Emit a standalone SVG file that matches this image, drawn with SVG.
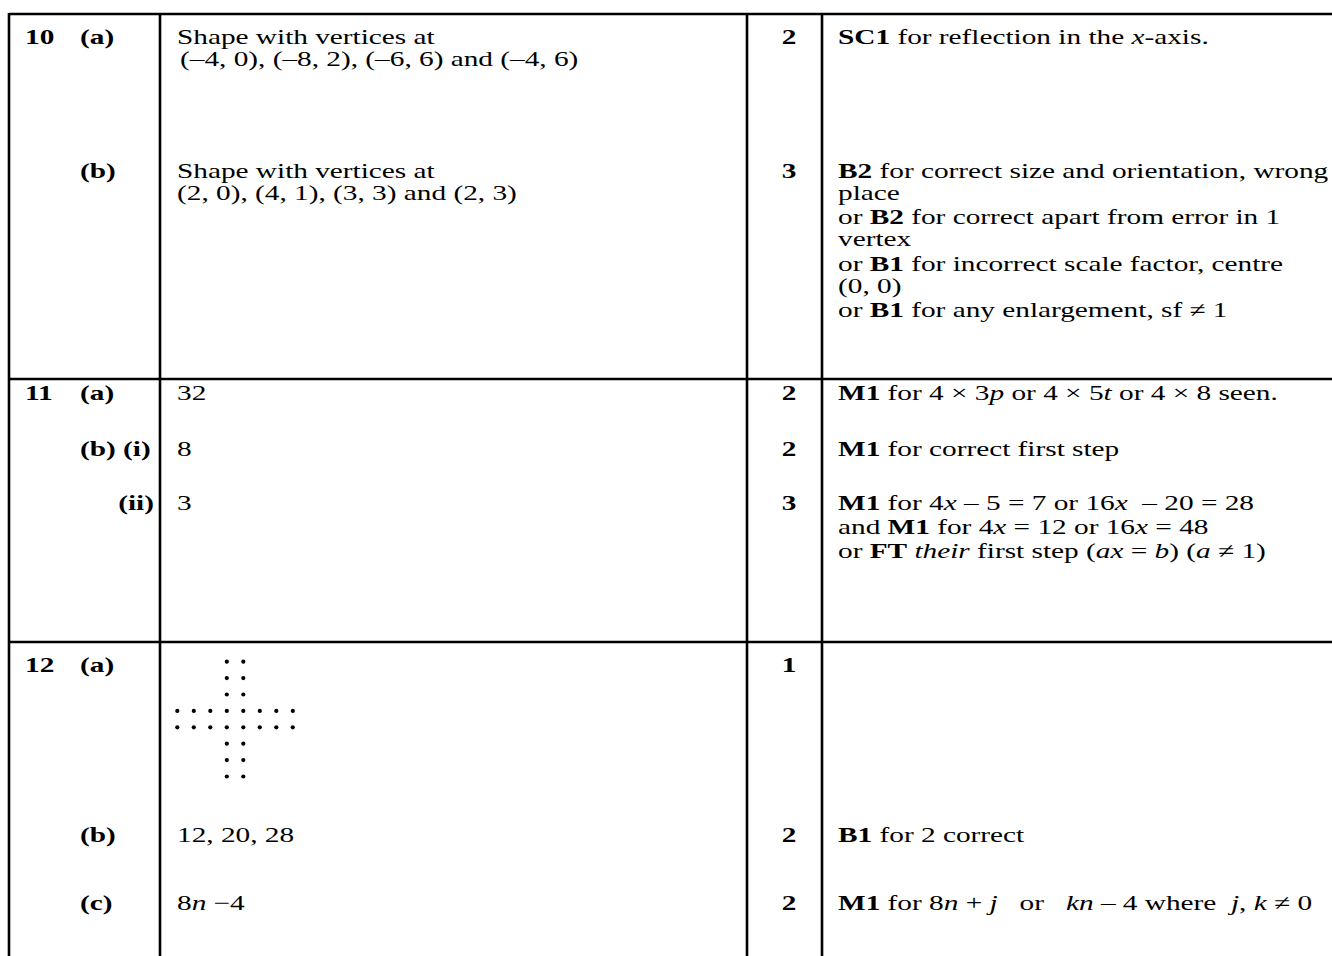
<svg xmlns="http://www.w3.org/2000/svg" width="1332" height="956" viewBox="0 0 1332 956">
<style>
text{font-family:"Liberation Serif","Times New Roman",serif;font-size:21px;fill:#000;white-space:pre}
.b{font-weight:bold}
.i{font-style:italic}
.m{font-weight:bold;text-anchor:middle}
.grid line{stroke:#000;stroke-width:2.6}
.dots circle{fill:#000}
</style>
<rect width="1332" height="956" fill="#fff"/>
<g id="connectors" class="grid">
<line x1="9" y1="14" x2="1332" y2="14"/>
<line x1="9" y1="379" x2="1332" y2="379"/>
<line x1="9" y1="642" x2="1332" y2="642"/>
<line x1="9" y1="13" x2="9" y2="956"/>
<line x1="160" y1="13" x2="160" y2="956"/>
<line x1="747" y1="13" x2="747" y2="956"/>
<line x1="822" y1="13" x2="822" y2="956"/>
</g>
<g id="q10">
<text class="b" transform="translate(25 44) scale(1.395 1)">10</text>
<text class="b" transform="translate(80 44) scale(1.395 1)">(a)</text>
<text transform="translate(177 44) scale(1.395 1)">Shape with vertices at</text>
<text transform="translate(180 66) scale(1.395 1)">(–4, 0), (–8, 2), (–6, 6) and (–4, 6)</text>
<text class="m" transform="translate(789 44) scale(1.395 1)">2</text>
<text transform="translate(838 44) scale(1.395 1)"><tspan class="b">SC1</tspan> for reflection in the <tspan class="i">x</tspan>-axis.</text>
<text class="b" transform="translate(80 178) scale(1.395 1)">(b)</text>
<text transform="translate(177 178) scale(1.395 1)">Shape with vertices at</text>
<text transform="translate(177 200) scale(1.395 1)">(2, 0), (4, 1), (3, 3) and (2, 3)</text>
<text class="m" transform="translate(789 178) scale(1.395 1)">3</text>
<text transform="translate(838 178) scale(1.395 1)"><tspan class="b">B2</tspan> for correct size and orientation, wrong</text>
<text transform="translate(838 200) scale(1.395 1)">place</text>
<text transform="translate(838 224) scale(1.395 1)">or <tspan class="b">B2</tspan> for correct apart from error in 1</text>
<text transform="translate(838 246) scale(1.395 1)">vertex</text>
<text transform="translate(838 271) scale(1.395 1)">or <tspan class="b">B1</tspan> for incorrect scale factor, centre</text>
<text transform="translate(838 293) scale(1.395 1)">(0, 0)</text>
<text transform="translate(838 317) scale(1.395 1)">or <tspan class="b">B1</tspan> for any enlargement, sf ≠ 1</text>
</g>
<g id="q11">
<text class="b" transform="translate(25 400) scale(1.395 1)">11</text>
<text class="b" transform="translate(80 400) scale(1.395 1)">(a)</text>
<text transform="translate(177 400) scale(1.395 1)">32</text>
<text class="m" transform="translate(789 400) scale(1.395 1)">2</text>
<text transform="translate(838 400) scale(1.395 1)"><tspan class="b">M1</tspan> for 4 × 3<tspan class="i">p</tspan> or 4 × 5<tspan class="i">t</tspan> or 4 × 8 seen.</text>
<text class="b" transform="translate(80 456) scale(1.395 1)">(b) (i)</text>
<text transform="translate(177 456) scale(1.395 1)">8</text>
<text class="m" transform="translate(789 456) scale(1.395 1)">2</text>
<text transform="translate(838 456) scale(1.395 1)"><tspan class="b">M1</tspan> for correct first step</text>
<text class="b" text-anchor="end" transform="translate(154 510) scale(1.395 1)">(ii)</text>
<text transform="translate(177 510) scale(1.395 1)">3</text>
<text class="m" transform="translate(789 510) scale(1.395 1)">3</text>
<text transform="translate(838 510) scale(1.395 1)"><tspan class="b">M1</tspan> for 4<tspan class="i">x</tspan> – 5 = 7 or 16<tspan class="i">x</tspan>  – 20 = 28</text>
<text transform="translate(838 534) scale(1.395 1)">and <tspan class="b">M1</tspan> for 4<tspan class="i">x</tspan> = 12 or 16<tspan class="i">x</tspan> = 48</text>
<text transform="translate(838 558) scale(1.395 1)">or <tspan class="b">FT</tspan> <tspan class="i">their</tspan> first step (<tspan class="i">ax</tspan> = <tspan class="i">b</tspan>) (<tspan class="i">a</tspan> ≠ 1)</text>
</g>
<g id="q12">
<text class="b" transform="translate(25 672) scale(1.395 1)">12</text>
<text class="b" transform="translate(80 672) scale(1.395 1)">(a)</text>
<text class="m" transform="translate(789 672) scale(1.395 1)">1</text>
<g class="dots">
<circle cx="226.8" cy="661.7" r="2.1"/><circle cx="243.3" cy="661.7" r="2.1"/>
<circle cx="226.8" cy="678.1" r="2.1"/><circle cx="243.3" cy="678.1" r="2.1"/>
<circle cx="226.8" cy="694.5" r="2.1"/><circle cx="243.3" cy="694.5" r="2.1"/>
<circle cx="177.3" cy="710.9" r="2.1"/><circle cx="193.8" cy="710.9" r="2.1"/><circle cx="210.3" cy="710.9" r="2.1"/><circle cx="226.8" cy="710.9" r="2.1"/><circle cx="243.3" cy="710.9" r="2.1"/><circle cx="259.8" cy="710.9" r="2.1"/><circle cx="276.3" cy="710.9" r="2.1"/><circle cx="292.8" cy="710.9" r="2.1"/>
<circle cx="177.3" cy="727.3" r="2.1"/><circle cx="193.8" cy="727.3" r="2.1"/><circle cx="210.3" cy="727.3" r="2.1"/><circle cx="226.8" cy="727.3" r="2.1"/><circle cx="243.3" cy="727.3" r="2.1"/><circle cx="259.8" cy="727.3" r="2.1"/><circle cx="276.3" cy="727.3" r="2.1"/><circle cx="292.8" cy="727.3" r="2.1"/>
<circle cx="226.8" cy="743.7" r="2.1"/><circle cx="243.3" cy="743.7" r="2.1"/>
<circle cx="226.8" cy="760.1" r="2.1"/><circle cx="243.3" cy="760.1" r="2.1"/>
<circle cx="226.8" cy="776.5" r="2.1"/><circle cx="243.3" cy="776.5" r="2.1"/>
</g>
<text class="b" transform="translate(80 842) scale(1.395 1)">(b)</text>
<text transform="translate(177 842) scale(1.395 1)">12, 20, 28</text>
<text class="m" transform="translate(789 842) scale(1.395 1)">2</text>
<text transform="translate(838 842) scale(1.395 1)"><tspan class="b">B1</tspan> for 2 correct</text>
<text class="b" transform="translate(80 910) scale(1.395 1)">(c)</text>
<text transform="translate(177 910) scale(1.395 1)">8<tspan class="i">n</tspan> −4</text>
<text class="m" transform="translate(789 910) scale(1.395 1)">2</text>
<text transform="translate(838 910) scale(1.395 1)"><tspan class="b">M1</tspan> for 8<tspan class="i">n</tspan> + <tspan class="i">j</tspan>   or   <tspan class="i">kn</tspan> – 4 where  <tspan class="i">j</tspan>, <tspan class="i">k</tspan> ≠ 0</text>
</g>
</svg>
